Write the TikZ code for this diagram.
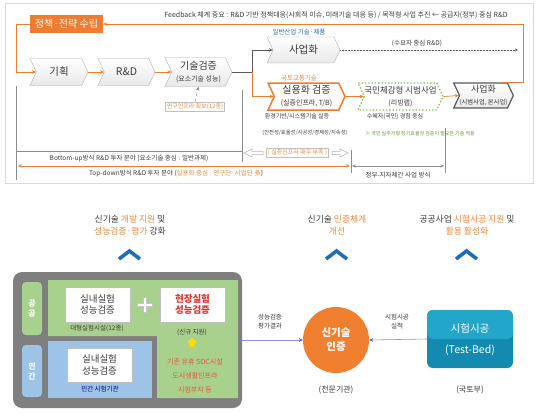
\documentclass[tikz,border=0pt]{standalone}
\usepackage{fontspec}
\setmainfont{Noto Sans CJK KR}
\usetikzlibrary{shapes.symbols,arrows.meta,calc}
\definecolor{org}{HTML}{EE7D31}
\definecolor{orgtxt}{HTML}{F0883A}
\definecolor{grn}{HTML}{7DBE3C}
\definecolor{txt}{HTML}{3A3A3A}
\definecolor{lin}{HTML}{8C8C8C}
\definecolor{bluetxt}{HTML}{2E6DB4}
\definecolor{chev}{HTML}{1F6FB4}
\definecolor{boxgrey}{HTML}{7F7F7F}
\definecolor{areagreen}{HTML}{A9D18E}
\definecolor{areablue}{HTML}{9DC3E6}
\definecolor{redtxt}{HTML}{E8302A}
\definecolor{redorg}{HTML}{E9543C}
\definecolor{circ}{HTML}{F07F2F}
\definecolor{tealtop}{HTML}{22A6CA}
\definecolor{tealbot}{HTML}{138AB0}
\definecolor{arrblue}{HTML}{4472C4}
\newcommand{\fs}[2]{\fontsize{#1}{#2}\selectfont}
\tikzset{
  chevbox/.style={signal, signal from=west, signal to=east, signal pointer angle=130,
    draw=gray!60, top color=white, bottom color=gray!18, inner sep=0pt, text=txt},
  arr/.style={-{Stealth[length=4pt,width=3.5pt]}},
  oline/.style={draw=org, line width=0.7pt},
  gline/.style={draw=lin, line width=0.5pt},
  small/.style={font=\fs{6.5}{7.5}, text=txt, inner sep=1pt},
  head/.style={font=\fs{8.8}{11.5}, text=txt, align=center, inner sep=1pt},
  upchev/.style={draw=chev, line width=3.6pt},
  whitebox/.style={fill=white, draw=gray!50, minimum width=65, minimum height=35, align=center, font=\fs{9.5}{11.5}, inner sep=0pt},
  strip/.style={rounded corners=4pt, minimum width=20, text=white, font=\fs{8}{10}\bfseries, align=center, inner sep=0pt}
}
\begin{document}
\begin{tikzpicture}[x=1pt,y=-1pt]
\useasboundingbox (0,0) rectangle (543,418);
\fill[white] (0,0) rectangle (543,418);
% top panel
\draw[gray!30, fill=white] (5,3) rectangle (533,183);

% policy box
\node[fill=org, text=white, minimum width=73, minimum height=18, inner sep=0pt, font=\fs{10}{12}] (policy) at (66.5,24) {정책·전략 수립};
\node[small, font=\fs{7}{8}] (fb) at (336,15.5) {Feedback 체계 중요 : R\&D 기반 정책대응(사회적 이슈, 미래기술 대응 등) / 목적형 사업 추진 ← 공급자(정부) 중심 R\&D};

% chevrons
\node[chevbox, minimum width=58, minimum height=27, font=\fs{10.5}{12}] (plan) at (59,72) {기획};
\node[chevbox, minimum width=57, minimum height=27, font=\fs{10.5}{12}] (rnd) at (126.5,72) {R\&D};
\node[chevbox, minimum width=67, minimum height=29, align=center] (tech) at (198.5,72) {{\fs{10}{11}기술검증}\\{\fs{7}{8}(요소기술 성능)}};
\node[chevbox, minimum width=73, minimum height=26, font=\fs{10.5}{12}] (biz1) at (303.5,50) {사업화};
\node[chevbox, draw=org, line width=1.5pt, bottom color=org!6, minimum width=77, minimum height=27, align=center] (prac) at (306.5,96.5) {{\fs{10}{11}실용화 검증}\\{\fs{7}{8}(실증인프라, T/B)}};
\node[chevbox, draw=grn, dotted, line width=1.3pt, bottom color=white, minimum width=85, minimum height=27, align=center] (living) at (400.5,96.5) {{\fs{8.5}{10}국민체감형 시범사업}\\{\fs{7}{8}(리빙랩)}};
\node[chevbox, draw=gray!70!black, line width=1.2pt, minimum width=53, minimum height=25, align=center] (biz2) at (483.5,95.5) {{\fs{9}{10}사업화}\\{\fs{6.3}{7.5}(시범사업, 본사업)}};

% coordinates
\coordinate (lt) at (16,24);
\coordinate (lb) at (16,72);
\coordinate (rt) at (523,24);
\coordinate (rb) at (523,88);
\coordinate (br) at (252,72);
\coordinate (dotend) at (518,50);

% orange frame
\draw[oline, arr] (policy.west) -- (lt) -- (lb) -- (plan.west);
\draw[oline, arr] (biz2.35) -- (biz2.35 -| rb) -- (rt) -- (policy.east);
\draw[oline, arr] (plan.east) -- (rnd.west);
\draw[oline, arr] (rnd.east) -- (tech.west);
\draw[draw=gray!70!black, line width=0.6pt] (tech.east) -- (br);
\draw[draw=gray!70!black, line width=0.6pt, arr] (br) |- (biz1.west);
\draw[oline, arr] (br) |- (prac.west);
\draw[oline, arr] (prac.east) -- (living.west);
\draw[oline, arr] (living.east) -- (biz2.west);
\draw[draw=gray!70!black, densely dotted, line width=0.5pt, -{Stealth[length=3pt,width=3pt]}] (biz1.east) -- (dotend);

% labels top
\node[font=\fs{6.5}{7.5}, text=bluetxt] (lbl1) at (299,32) {일반산업 기술·제품};
\node[font=\fs{6.5}{7.5}, text=orgtxt] (lbl2) at (299,78) {국토교통기술};
\node[small] (dem) at (417,43) {(수요자 중심 R\&D)};
\node[small, font=\fs{6}{7}] (env) at (297,117) {환경기반/시스템기술 실증};
\node[small, font=\fs{5.3}{6}] (safe) at (305,133) {(안전성/효율성/시공성/경제성/지속성)};
\node[small, font=\fs{6}{7}] (ben) at (395,117) {수혜자(국민) 경험 중심};
\node[small, font=\fs{5}{6}, text=grn!80!black] (note) at (420,134) {※ 국민 실주거형 장기효율성 검증이 필요한 기술 적용};

% research infra box
\node[draw=gray!50, text=orgtxt, font=\fs{6}{7}, inner sep=1.5pt, fill=white] (infra) at (195,106.5) {연구인프라 확보(12종)};
\draw[gline, dashed, arr] (infra.north) -- (tech.south);

% grey bracket lines
\coordinate (g1) at (16,86);
\coordinate (g2) at (16,180);
\coordinate (g3) at (16,151);
\coordinate (g4) at (242,151);
\coordinate (g5) at (242,90);
\coordinate (g6) at (242,162);
\draw[gline] (g1) -- (g2);
\draw[gline] (g3) -- (g4);
\draw[gline] (g5) -- (g6);
\node[small] (bu) at (129,159) {Bottom-up방식 R\&D 투자 분야 (요소기술 중심 : 일반과제)};

% shortage box with hollow arrows
\node[draw=gray!50, fill=white, text=orgtxt, font=\fs{6}{7}, inner sep=1.5pt] (short) at (297.5,153) {( 실증인프라 매우 부족 )};
\draw[gray!60, fill=white, line width=0.5pt] (263,151.3) -- (252,151.3) -- (252,149) -- (244,153) -- (252,157) -- (252,154.7) -- (263,154.7) -- cycle;
\draw[gray!60, fill=white, line width=0.5pt] (332,151.3) -- (340,151.3) -- (340,149) -- (348,153) -- (340,157) -- (340,154.7) -- (332,154.7) -- cycle;

% top-down line
\coordinate (tdl) at (18,166);
\coordinate (tdr) at (350,166);
\coordinate (v1t) at (351,150);
\coordinate (v1b) at (351,173);
\coordinate (v2t) at (445,128);
\coordinate (v2b) at (445,173);
\draw[oline, {Stealth[length=4pt,width=3.5pt]}-{Stealth[length=4pt,width=3.5pt]}] (tdl) -- (tdr);
\draw[gline] (v1t) -- (v1b);
\draw[gline] (v2t) -- (v2b);
\draw[gline, {Stealth[length=3.5pt,width=3pt]}-{Stealth[length=3.5pt,width=3pt]}] (352,166) -- (444,166);
\node[small] (td) at (176,174) {Top-down방식 R\&D 투자 분야 (\textcolor{orgtxt}{실용화 중심 : 연구단·사업단 多})};
\node[small] (gov) at (398,175) {정부-지자체간 사업 방식};

% ===== bottom =====
\node[head] (h1) at (130,225) {신기술 \textcolor{orgtxt}{개발 지원} 및\\\textcolor{orgtxt}{성능검증·평가} 강화};
\node[head] (h2) at (337,225) {신기술 \textcolor{orgtxt}{인증체계}\\\textcolor{orgtxt}{개선}};
\node[head] (h3) at (467,225) {공공사업 \textcolor{orgtxt}{시험시공 지원} 및\\\textcolor{orgtxt}{활용 활성화}};
\draw[upchev] (119,259) -- (129.5,251) -- (140,259);
\draw[upchev] (326,259) -- (336.5,251) -- (347,259);
\draw[upchev] (456,259) -- (466.5,251) -- (477,259);

% big grey box
\node[fill=boxgrey, rounded corners=9pt, minimum width=229, minimum height=136, inner sep=0pt] (big) at (127.5,340) {};
\fill[areagreen] (48,280) -- (238,280) -- (238,398) -- (157,398) -- (157,336) -- (48,336) -- cycle;
\fill[areablue] (48,341) rectangle (152,398);
\node[strip, fill=areagreen, minimum height=53] (pub) at (32,308.5) {공\\공};
\node[strip, fill=areablue, minimum height=52] (priv) at (32,371) {민\\간};

\node[whitebox, text=txt] (in1) at (97.5,304.5) {실내실험\\성능검증};
\node[whitebox, text=redtxt, font=\fs{9.5}{11.5}\bfseries] (field) at (192.5,304.5) {현장실험\\성능검증};
\draw[gray!45, line width=3.6pt] (137,305) -- (153,305) (145,297) -- (145,313);
\draw[white, line width=2pt] (137.8,305) -- (152.2,305) (145,297.8) -- (145,312.2);
\node[small] (big12) at (97,328) {대형실험시설(12종)};
\node[small] (newsup) at (192,332) {(신규 지원)};
\fill[yellow!80!orange] (192,337.5) -- (197,343) -- (194.3,343) -- (194.3,347) -- (189.7,347) -- (189.7,343) -- (187,343) -- cycle;
\node[font=\fs{7}{8}, text=redorg, inner sep=1pt] (r1) at (195,362) {기존 유휴 SOC시설};
\node[font=\fs{7}{8}, text=redorg, inner sep=1pt] (r2) at (195,376) {도시생활인프라};
\node[font=\fs{7}{8}, text=redorg, inner sep=1pt] (r3) at (195,390) {시험부지 등};
\node[whitebox, text=txt, minimum height=34] (in2) at (99.5,365) {실내실험\\성능검증};
\node[small, text=blue!50!black] (privlab) at (100,389) {민간 시험기관};

% certification
\node[circle, fill=circ, minimum size=66, inner sep=0pt, text=white, font=\fs{10.5}{14}\bfseries, align=center] (cert) at (336,340) {신기술\\인증};
\node[font=\fs{8}{9}, text=txt] (agency) at (336,390) {(전문기관)};
\node[rounded corners=6pt, fill=tealbot, minimum width=86, minimum height=58, inner sep=0pt,
  path picture={\fill[tealtop] (path picture bounding box.north west) rectangle (path picture bounding box.east);}] (tb) at (470,339) {};
\node[text=white, font=\fs{10.5}{12}] (tb1) at (470,329) {시험시공};
\node[text=white, font=\fs{10.5}{12}] (tb2) at (470,350) {(Test-Bed)};
\node[font=\fs{8}{9}, text=txt] (molit) at (470,390) {(국토부)};
\node[small, align=center, font=\fs{6.5}{9}] (res) at (270,322) {성능검증\\평가결과};
\node[small, align=center, font=\fs{6.5}{9}] (perf) at (397,322) {시험시공\\실적};
\draw[draw=gray!55!blue!60, line width=0.6pt, -{Stealth[length=4pt,width=4pt,color=arrblue]}] (big.east) -- (cert.west);
\draw[draw=gray!55!blue!60, line width=0.6pt, -{Stealth[length=4pt,width=4pt,color=arrblue]}] (tb.west) -- (cert.east);
\end{tikzpicture}
\end{document}
